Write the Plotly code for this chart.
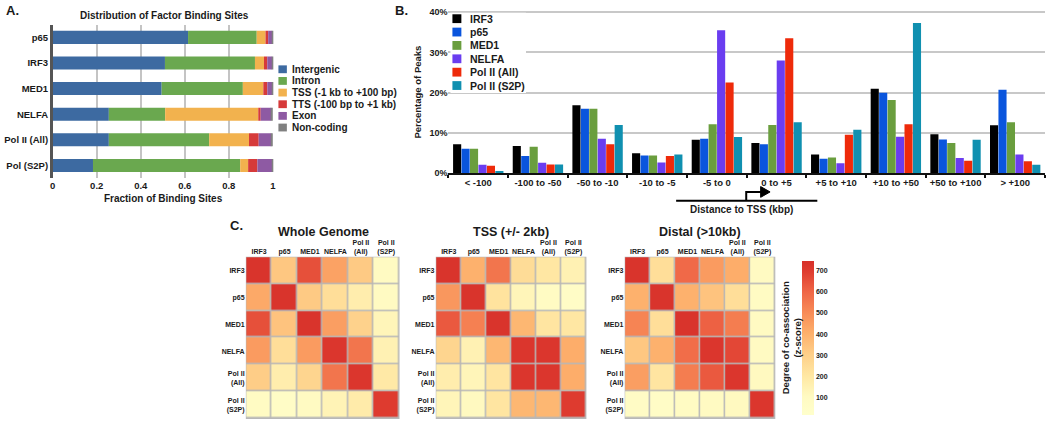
import plotly.graph_objects as go

W, H = 1050, 425
def fx(x): return x / W
def fy(y): return 1 - y / H

FONT = "Liberation Sans"
TXT = "#1a1a1a"

# ---------------- Panel A: Distribution of Factor Binding Sites ----------------
a_factors = ["p65", "IRF3", "MED1", "NELFA", "Pol II (All)", "Pol (S2P)"]
a_regions = ["Intergenic", "Intron", "TSS (-1 kb to +100 bp)", "TTS (-100 bp to +1 kb)", "Exon", "Non-coding"]
a_intergenic = [0.615, 0.510, 0.495, 0.255, 0.255, 0.183]
a_intron     = [0.312, 0.409, 0.369, 0.256, 0.456, 0.669]
a_tss        = [0.040, 0.041, 0.093, 0.423, 0.181, 0.036]
a_tts        = [0.012, 0.015, 0.018, 0.011, 0.044, 0.042]
a_exon       = [0.018, 0.022, 0.022, 0.048, 0.058, 0.067]
a_noncoding  = [0.003, 0.003, 0.003, 0.007, 0.006, 0.003]
a_colors = ["#3d6aa1", "#6aa84f", "#f2b24e", "#d63a3a", "#8e5aa3", "#808080"]
a_ticks = [0, 0.2, 0.4, 0.6, 0.8, 1]
a_ticktext = ["0", "0.2", "0.4", "0.6", "0.8", "1"]

# ---------------- Panel B: Distance to TSS ----------------
b_bins = ["< -100", "-100 to -50", "-50 to -10", "-10 to -5", "-5 to 0",
          "0 to +5", "+5 to +10", "+10 to +50", "+50 to +100", "> +100"]
b_series = ["IRF3", "p65", "MED1", "NELFA", "Pol II (All)", "Pol II (S2P)"]
b_irf3    = [7.2, 6.8, 16.9, 5.0, 8.3, 7.5, 4.7, 21.0, 9.7, 11.9]
b_p65     = [6.1, 4.3, 16.0, 4.4, 8.6, 7.2, 3.6, 20.0, 8.4, 20.7]
b_med1    = [6.1, 6.6, 16.0, 4.4, 12.2, 12.0, 3.9, 18.2, 7.5, 12.7]
b_nelfa   = [2.1, 2.6, 8.6, 2.7, 35.5, 28.0, 2.5, 9.1, 3.8, 4.7]
b_pol_all = [1.9, 2.2, 7.2, 4.3, 22.5, 33.5, 9.6, 12.2, 3.1, 3.0]
b_pol_s2p = [0.6, 2.2, 12.0, 4.7, 9.0, 12.7, 10.8, 37.3, 8.3, 2.1]
b_colors = ["#000000", "#0a55dd", "#6a9e3e", "#6a3df0", "#ee2a0a", "#1090b0"]
b_ticks = [0, 10, 20, 30, 40]
b_ticktext = ["0%", "10%", "20%", "30%", "40%"]

# ---------------- Panel C: co-association heatmaps ----------------
c_factors = ["IRF3", "p65", "MED1", "NELFA", "Pol II<br>(All)", "Pol II<br>(S2P)"]
c_whole = [
    [730, 330, 650, 440, 320, 100],
    [420, 730, 320, 240, 170, 100],
    [650, 340, 730, 450, 290, 130],
    [460, 240, 460, 720, 560, 150],
    [310, 170, 280, 560, 720, 190],
    [90, 70, 100, 140, 180, 700],
]
c_tss = [
    [730, 400, 560, 250, 200, 150],
    [470, 730, 220, 130, 90, 70],
    [630, 530, 730, 380, 210, 200],
    [280, 150, 380, 720, 720, 410],
    [170, 130, 210, 720, 720, 410],
    [130, 110, 210, 380, 380, 700],
]
c_distal = [
    [730, 240, 590, 460, 410, 100],
    [400, 730, 400, 340, 240, 90],
    [520, 240, 730, 610, 540, 100],
    [330, 400, 580, 720, 670, 100],
    [450, 210, 540, 630, 720, 110],
    [80, 70, 90, 100, 110, 720],
]
c_titles = ["Whole Genome", "TSS (+/- 2kb)", "Distal (>10kb)"]
c_cbar_ticks = [100, 200, 300, 400, 500, 600, 700]

fig = go.Figure()

# Panel A stacked bars
a_values = [a_intergenic, a_intron, a_tss, a_tts, a_exon, a_noncoding]
base = [0.0] * len(a_factors)
for name, vals, col in zip(a_regions, a_values, a_colors):
    fig.add_trace(go.Bar(
        y=a_factors, x=vals, base=list(base), orientation="h", name=name,
        marker=dict(color=col, line=dict(width=0)), width=0.51, offset=-0.255,
        xaxis="x", yaxis="y", showlegend=False))
    base = [b + v for b, v in zip(base, vals)]

# Panel B grouped bars
for name, vals, col in zip(b_series, [b_irf3, b_p65, b_med1, b_nelfa, b_pol_all, b_pol_s2p], b_colors):
    fig.add_trace(go.Bar(
        x=b_bins, y=vals, name=name, marker=dict(color=col, line=dict(width=0)),
        xaxis="x2", yaxis="y2", showlegend=False))

# Panel C heatmaps
for k, mat, t in zip([3, 4, 5], [c_whole, c_tss, c_distal], c_titles):
    fig.add_trace(go.Heatmap(
        z=mat, x=c_factors, y=c_factors, coloraxis="coloraxis", name=t,
        xgap=1.5, ygap=1.5, xaxis=f"x{k}", yaxis=f"y{k}"))

tickf = lambda s: dict(family=FONT, size=s, color=TXT, weight="bold")

layout = dict(
    width=W, height=H, autosize=False,
    margin=dict(l=0, r=0, t=0, b=0),
    paper_bgcolor="white", plot_bgcolor="white",
    font=dict(family=FONT, color=TXT, weight="bold"),
    barmode="group", bargap=0.15, bargroupgap=0.04,
    showlegend=False,
    # Panel A axes
    xaxis=dict(domain=[fx(50), fx(272)], anchor="y", range=[0, 1.003],
               tickvals=a_ticks, ticktext=a_ticktext,
               showgrid=True, gridcolor="#c4c4c4", gridwidth=2, zeroline=False,
               ticks="", tickfont=tickf(9.5),
               title=dict(text="Fraction of Binding Sites", font=tickf(10), standoff=5)),
    yaxis=dict(domain=[fy(178), fy(21)], anchor="x", categoryorder="array",
               categoryarray=a_factors, autorange="reversed",
               showline=True, linecolor="#555555", linewidth=2.5, ticks="",
               tickfont=tickf(9.5), showgrid=False, zeroline=False),
    # Panel B axes
    xaxis2=dict(domain=[fx(448), fx(1048)], anchor="y2", categoryorder="array",
                categoryarray=b_bins, showline=True, linecolor="#111111", linewidth=1.5,
                ticks="outside", tickson="boundaries", ticklen=3, tickcolor="#111111",
                tickwidth=1.5, showgrid=False, tickangle=0, tickfont=tickf(9.5)),
    yaxis2=dict(domain=[fy(173), fy(7)], anchor="x2", range=[0, 40.3],
                tickvals=b_ticks, ticktext=b_ticktext, showgrid=True, gridcolor="#c8c8c8",
                gridwidth=1.5, zeroline=False, showline=False, ticks="",
                tickfont=tickf(9),
                title=dict(text="Percentage of Peaks", font=tickf(9.5), standoff=6)),
    coloraxis=dict(
        cmin=15, cmax=745,
        colorscale=[[0.0, "#ffffcc"], [0.12, "#fffac2"], [0.25, "#ffe8a4"],
                    [0.39, "#fed08a"], [0.53, "#fdb06c"], [0.66, "#f88d58"],
                    [0.8, "#ef6646"], [0.93, "#df3d30"], [1.0, "#d7302a"]],
        colorbar=dict(x=fx(804), xanchor="left", y=fy(341.5), yanchor="middle",
                      len=157 / H, lenmode="fraction", thickness=12, thicknessmode="pixels",
                      xpad=0, ypad=0, outlinewidth=0, tickvals=c_cbar_ticks, ticks="",
                      tickfont=tickf(7))),
)

# Panel C axes
c_dom = [(244, 399), (435, 587), (625, 777)]
for k, (x0, x1) in zip([3, 4, 5], c_dom):
    layout[f"xaxis{k}"] = dict(domain=[fx(x0), fx(x1)], anchor=f"y{k}", side="top",
                               ticks="", showgrid=False, zeroline=False, showline=False,
                               tickfont=tickf(7))
    layout[f"yaxis{k}"] = dict(domain=[fy(424), fy(258)], anchor=f"x{k}", autorange="reversed",
                               ticks="", showgrid=False, zeroline=False, showline=False,
                               tickfont=tickf(7))

fig.update_layout(**layout)

shapes = []
# heatmap cell borders (gray background behind gapped cells)
for k in [3, 4, 5]:
    shapes.append(dict(type="rect", xref=f"x{k}", yref=f"y{k}", x0=-0.5, x1=5.5, y0=-0.5, y1=5.5,
                       fillcolor="#b8b8b8", line=dict(color="#b8b8b8", width=1.5), layer="below"))

def pth(points, close=False):
    s = "M" + " L".join(f"{fx(x):.5f},{fy(y):.5f}" for x, y in points)
    return s + (" Z" if close else "")

def rect_px(x0, y0, x1, y1, color, layer="above"):
    return dict(type="rect", xref="paper", yref="paper", x0=fx(x0), x1=fx(x1),
                y0=fy(y1), y1=fy(y0), fillcolor=color, line=dict(width=0), layer=layer)

# Distance-to-TSS bracket and arrow (decoration)
shapes.append(dict(type="line", xref="paper", yref="paper", x0=fx(677), x1=fx(819),
                   y0=fy(201), y1=fy(201), line=dict(color="black", width=2)))
shapes.append(dict(type="path", xref="paper", yref="paper",
                   path=pth([(747.5, 201), (747.5, 192), (763, 192)]),
                   line=dict(color="black", width=2)))
shapes.append(dict(type="path", xref="paper", yref="paper",
                   path=pth([(762, 186.5), (771.5, 192), (762, 197.5)], close=True),
                   fillcolor="black", line=dict(color="black", width=1)))

ann = []
def add_text(text, x, y, size, xanchor="center", angle=0):
    ann.append(dict(text=text, x=fx(x), y=fy(y), xref="paper", yref="paper", showarrow=False,
                    xanchor=xanchor, yanchor="middle", textangle=angle,
                    font=dict(family=FONT, size=size, color=TXT, weight="bold")))

# Legend A (swatch + label)
for i, (name, col) in enumerate(zip(a_regions, a_colors)):
    yc = 66.7 + i * 11.9
    shapes.append(rect_px(277, yc - 4, 285.5, yc + 4, col))
    add_text(name, 288.5, yc, 10, "left")

# Legend B (white box hiding gridlines, swatch + label)
shapes.append(rect_px(450, 9, 526, 91, "white"))
for i, (name, col) in enumerate(zip(b_series, b_colors)):
    yc = 15 + i * 13.66
    shapes.append(rect_px(452, yc - 4.5, 461, yc + 4.5, col))
    add_text(name, 467.5, yc, 10.5, "left")

fig.update_layout(shapes=shapes)

add_text("A.", 1, 7, 13, "left")
add_text("B.", 392, 7, 13, "left")
add_text("C.", 226, 226, 13, "left")
add_text("Distribution of Factor Binding Sites", 162, 12, 10)
add_text("Distance to TSS (kbp)", 743, 210, 10)
for t, cx in zip(c_titles, [322, 511, 701]):
    add_text(t, cx, 233, 12.5)
add_text("Degree of co-association<br>(z-score)", 793, 341, 9.5, angle=-90)
fig.update_layout(annotations=ann)

fig.write_html("out.html", config={"displayModeBar": False},
               post_script="document.body.style.margin='0';document.body.style.overflow='hidden';")
